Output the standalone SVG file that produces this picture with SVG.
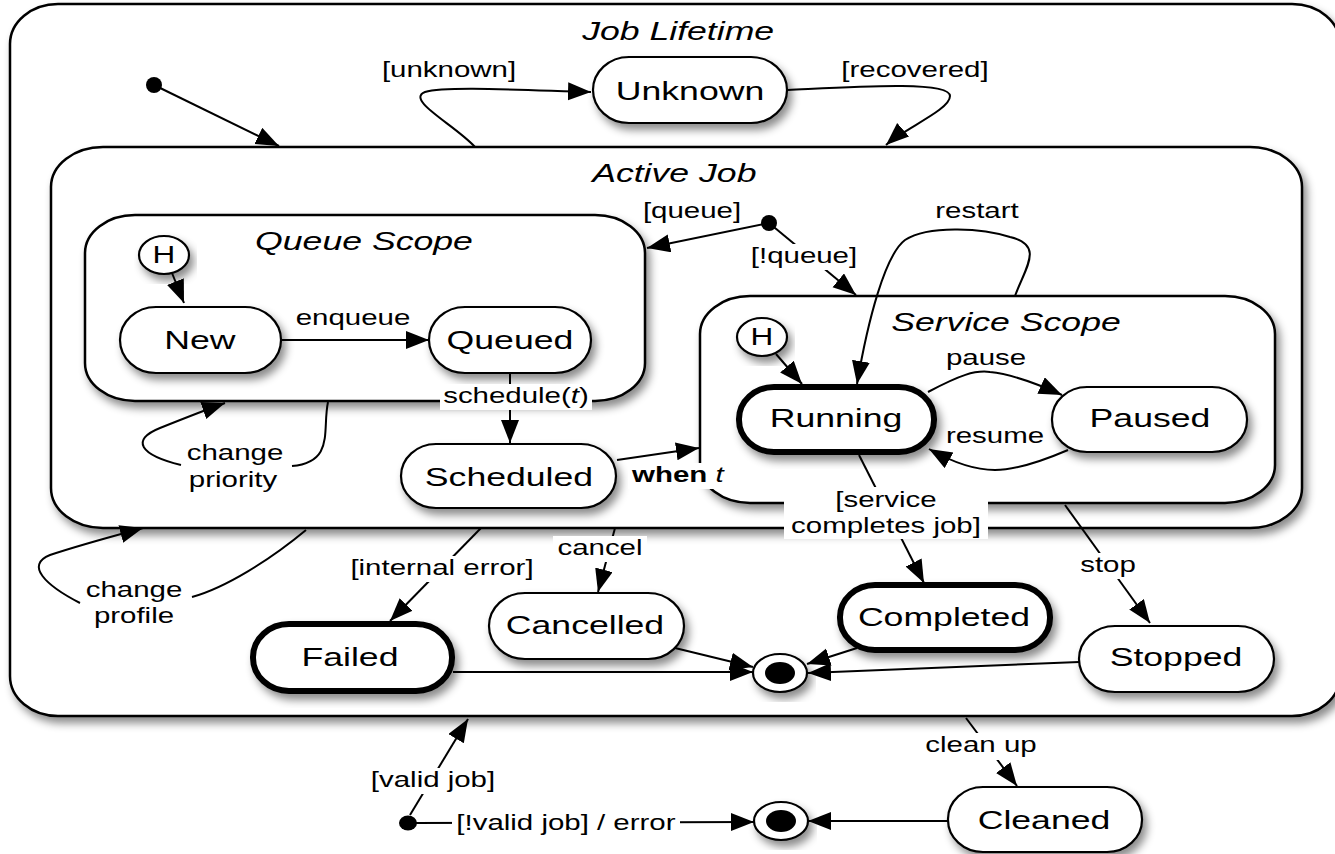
<svg xmlns="http://www.w3.org/2000/svg" width="1335" height="854" viewBox="0 0 1335 854">
<defs>
<style>
.box{fill:#fff;stroke:#000;stroke-width:2.5;filter:url(#sh)}
.node{fill:#fff;stroke:#000;stroke-width:2.2;filter:url(#sh)}
.thick{fill:#fff;stroke:#000;stroke-width:6;filter:url(#sh)}
.edge{fill:none;stroke:#000;stroke-width:2}
.arr{marker-end:url(#ah)}
.bg{fill:#fff;stroke:none}
text{font-family:"Liberation Sans",Arial,sans-serif;text-anchor:middle;fill:#000;transform-box:fill-box;transform-origin:center;transform:scaleX(1.37)}
.nl{font-size:26px}
.ti{font-size:26px;font-style:italic}
.lb{font-size:21.5px}
.h{font-size:23px}
</style>
<filter id="sh" x="-10%" y="-10%" width="125%" height="135%">
<feDropShadow dx="4" dy="6" stdDeviation="4" flood-color="#000" flood-opacity="0.45"/>
</filter>
<marker id="ah" markerWidth="26" markerHeight="20" refX="23" refY="9" orient="auto" markerUnits="userSpaceOnUse">
<path d="M0,0 L23,9 L0,18 z" fill="#000"/>
</marker>
</defs>

<g id="job-lifetime">
<rect class="box" x="10" y="4" width="1330" height="712" rx="48" ry="40"/>
<text class="ti" x="678" y="40">Job Lifetime</text>
</g>

<g id="active-job">
<rect class="box" x="51" y="147" width="1251" height="381" rx="52" ry="40"/>
<text class="ti" x="674" y="182">Active Job</text>
</g>

<g id="queue-scope">
<rect class="box" x="85" y="215" width="560" height="186" rx="50" ry="38"/>
<text class="ti" x="364" y="250">Queue Scope</text>
</g>

<g id="service-scope">
<rect class="box" x="700" y="296" width="575" height="207" rx="50" ry="38"/>
<text class="ti" x="1006" y="331">Service Scope</text>
</g>

<g id="initial-top"><circle cx="154" cy="85" r="8" fill="#000"/></g>
<g id="initial-active"><circle cx="769" cy="223" r="8" fill="#000"/></g>
<g id="initial-bottom"><ellipse cx="408" cy="823" rx="9" ry="7.5" fill="#000"/></g>

<g id="unknown">
<rect class="node" x="593" y="57" width="194" height="66" rx="36" ry="33"/>
<text class="nl" x="690" y="100">Unknown</text>
</g>

<g id="history-queue">
<ellipse class="node" cx="164" cy="255" rx="25" ry="19"/>
<text class="h" x="164" y="263">H</text>
</g>

<g id="new">
<rect class="node" x="120" y="307" width="161" height="66" rx="36" ry="33"/>
<text class="nl" x="200" y="349">New</text>
</g>

<g id="queued">
<rect class="node" x="429" y="307" width="162" height="66" rx="36" ry="33"/>
<text class="nl" x="510" y="349">Queued</text>
</g>

<g id="scheduled">
<rect class="node" x="401" y="444" width="215" height="64" rx="35" ry="32"/>
<text class="nl" x="509" y="486">Scheduled</text>
</g>

<g id="history-service">
<ellipse class="node" cx="762" cy="337" rx="25" ry="19"/>
<text class="h" x="762" y="345">H</text>
</g>

<g id="running">
<rect class="thick" x="739" y="387" width="195" height="65" rx="35" ry="32"/>
<text class="nl" x="836" y="427">Running</text>
</g>

<g id="paused">
<rect class="node" x="1052" y="387" width="195" height="65" rx="35" ry="32"/>
<text class="nl" x="1150" y="427">Paused</text>
</g>

<g id="failed">
<rect class="thick" x="253" y="624" width="199" height="67" rx="36" ry="33"/>
<text class="nl" x="350" y="666">Failed</text>
</g>

<g id="cancelled">
<rect class="node" x="489" y="593" width="195" height="66" rx="36" ry="33"/>
<text class="nl" x="585" y="634">Cancelled</text>
</g>

<g id="completed">
<rect class="thick" x="840" y="585" width="210" height="65" rx="35" ry="32"/>
<text class="nl" x="944" y="626">Completed</text>
</g>

<g id="stopped">
<rect class="node" x="1079" y="626" width="195" height="66" rx="36" ry="33"/>
<text class="nl" x="1176" y="666">Stopped</text>
</g>

<g id="final-inner">
<ellipse class="node" cx="780" cy="673" rx="27" ry="19" stroke-width="2.5"/>
<ellipse cx="780" cy="673" rx="15" ry="11" fill="#000"/>
</g>

<g id="final-outer">
<ellipse class="node" cx="781" cy="821" rx="27" ry="19" stroke-width="2.5"/>
<ellipse cx="781" cy="821" rx="15" ry="11" fill="#000"/>
</g>

<g id="cleaned">
<rect class="node" x="948" y="787" width="194" height="65" rx="35" ry="32"/>
<text class="nl" x="1044" y="829">Cleaned</text>
</g>

<g id="connectors">
<path class="edge arr" d="M154,85 L279,146"/>
<path class="edge arr" d="M475,147 C455,125 405,100 425,92 C445,86 520,90 591,92"/>
<path class="edge arr" d="M788,90 C850,87 950,80 950,96 C950,110 905,128 886,145"/>
<path class="edge arr" d="M769,223 L647,248"/>
<path class="edge arr" d="M769,223 L856,295"/>
<path class="edge arr" d="M172,273 L184,303"/>
<path class="edge arr" d="M510,373 L510,443"/>
<path class="edge arr" d="M281,340 L429,340"/>
<path class="edge arr" d="M617,460 L699,448"/>
<path class="edge" d="M328,402 C322,430 335,462 292,466"/>
<path class="edge arr" d="M181,465 C140,455 130,440 160,428 C185,418 205,410 225,403"/>
<path class="edge arr" d="M776,354 L802,384"/>
<path class="edge arr" d="M928,392 C960,375 975,370 990,372 C1010,374 1040,385 1062,395"/>
<path class="edge arr" d="M1068,450 C1040,462 1015,470 995,470 C970,470 945,458 929,449"/>
<path class="edge arr" d="M1015,296 C1025,268 1045,245 1010,237 C985,229 930,224 905,240 C885,255 868,320 857,384"/>
<path class="edge arr" d="M859,455 L924,583"/>
<path class="edge arr" d="M1065,505 L1150,623"/>
<path class="edge arr" d="M481,528 L390,621"/>
<path class="edge arr" d="M615,528 L598,592"/>
<path class="edge" d="M306,530 C270,560 225,588 192,597"/>
<path class="edge arr" d="M80,603 C45,585 25,565 50,555 C80,545 110,537 143,528"/>
<path class="edge arr" d="M453,672 L753,672"/>
<path class="edge arr" d="M675,648 L753,667"/>
<path class="edge arr" d="M857,648 L807,664"/>
<path class="edge arr" d="M1079,662 L808,673"/>
<path class="edge arr" d="M410,815 L468,719"/>
<path class="edge arr" d="M415,823 L754,822"/>
<path class="edge arr" d="M948,821 L808,821"/>
<path class="edge arr" d="M966,718 L1017,786"/>

<g id="labels">
<text class="lb" x="449" y="77">[unknown]</text>
<text class="lb" x="915" y="77">[recovered]</text>
<text class="lb" x="692" y="218">[queue]</text>
<rect class="bg" x="749" y="244" width="110" height="26"/>
<text class="lb" x="804" y="263">[!queue]</text>
<text class="lb" x="977" y="218">restart</text>
<text class="lb" x="353" y="325">enqueue</text>
<rect class="bg" x="440" y="384" width="152" height="26"/>
<text class="lb" x="516" y="403">schedule(<tspan font-style="italic">t</tspan>)</text>
<rect class="bg" x="628" y="463" width="100" height="26"/>
<text class="lb" x="678" y="482"><tspan font-weight="bold">when </tspan><tspan font-style="italic">t</tspan></text>
<text class="lb" x="235" y="460">change</text>
<text class="lb" x="233" y="487">priority</text>
<text class="lb" x="986" y="365">pause</text>
<text class="lb" x="995" y="443">resume</text>
<rect class="bg" x="784" y="487" width="204" height="52"/>
<text class="lb" x="886" y="507">[service</text>
<text class="lb" x="886" y="533">completes job]</text>
<rect class="bg" x="1076" y="553" width="64" height="26"/>
<text class="lb" x="1108" y="572">stop</text>
<rect class="bg" x="553" y="536" width="94" height="26"/>
<text class="lb" x="600" y="555">cancel</text>
<rect class="bg" x="348" y="556" width="188" height="26"/>
<text class="lb" x="442" y="575">[internal error]</text>
<text class="lb" x="134" y="597">change</text>
<text class="lb" x="134" y="623">profile</text>
<rect class="bg" x="369" y="768" width="128" height="26"/>
<text class="lb" x="433" y="787">[valid job]</text>
<rect class="bg" x="452" y="811" width="228" height="26"/>
<text class="lb" x="566" y="830">[!valid job] / error</text>
<rect class="bg" x="922" y="733" width="118" height="27"/>
<text class="lb" x="981" y="752">clean up</text>
</g>
</g>
</svg>
